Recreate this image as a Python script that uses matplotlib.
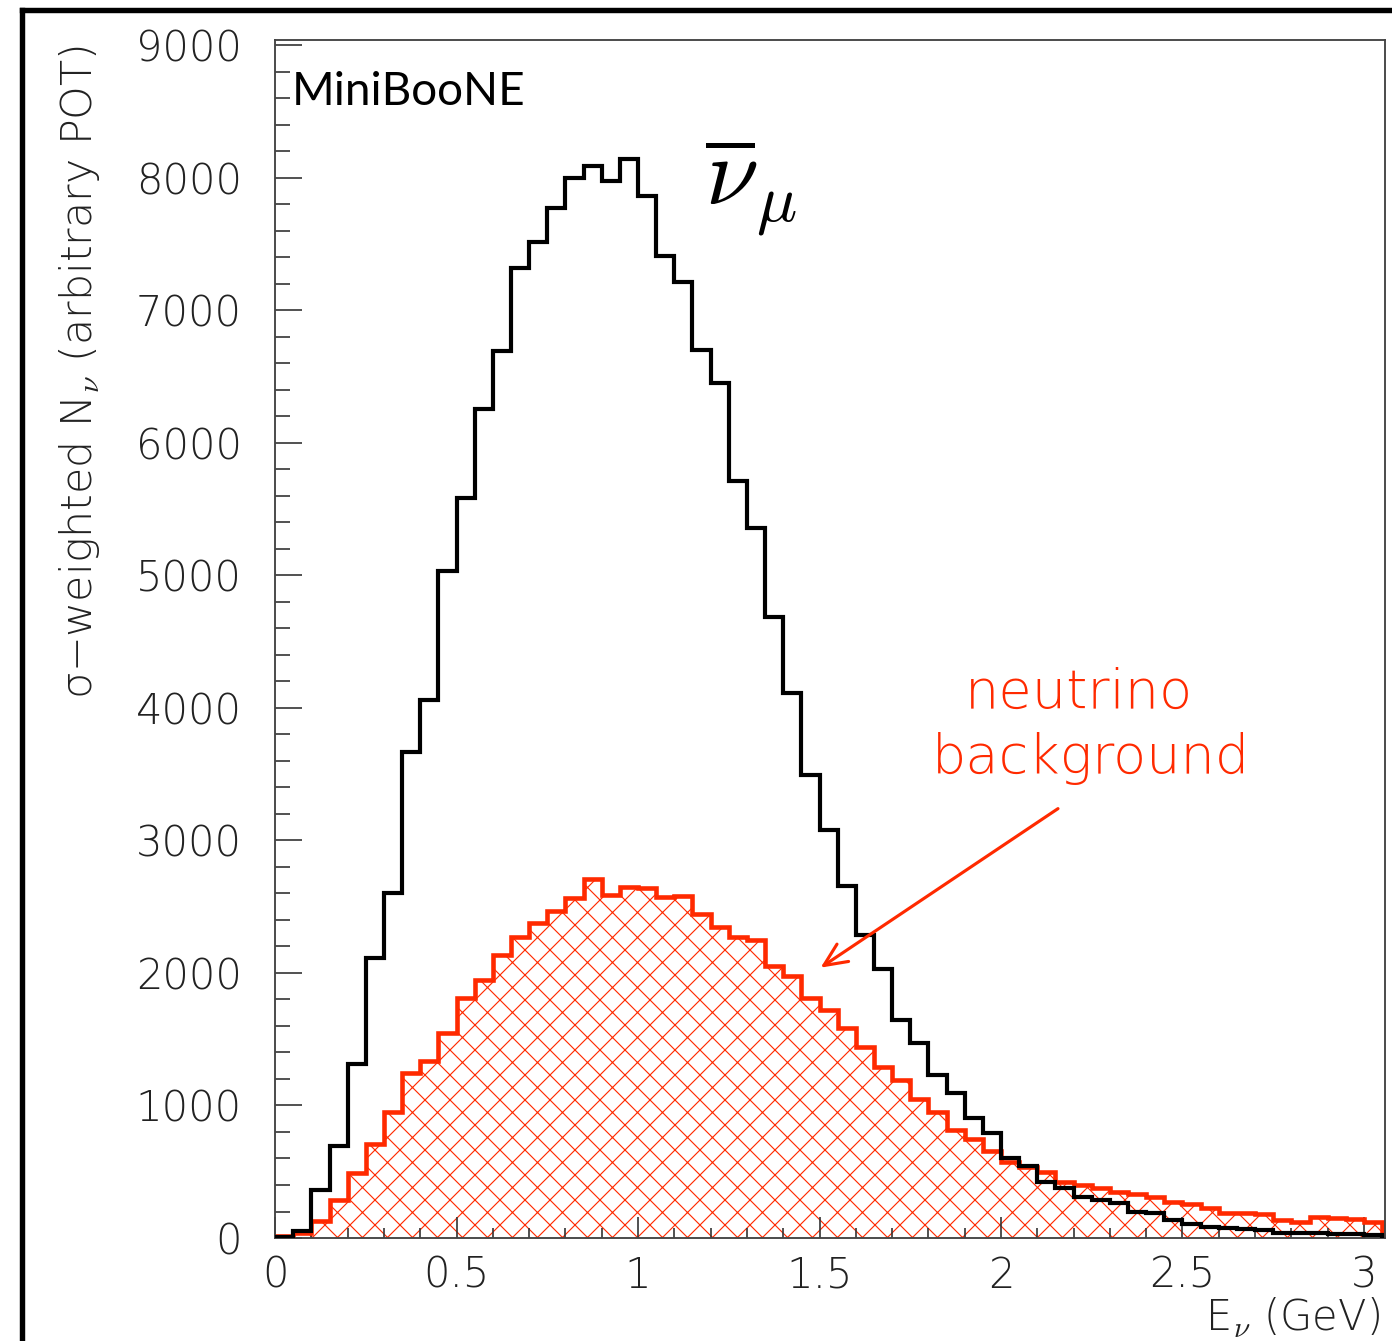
import numpy as np
import matplotlib
matplotlib.use("Agg")
import matplotlib.pyplot as plt
from matplotlib.lines import Line2D

# 0.05 GeV bins from 0 to 3.05 GeV
bin_width = 0.05
n_bins = 61
edges = np.arange(n_bins + 1) * bin_width

# sigma-weighted anti-numu flux (black)
antinu_mu = [10, 55, 365, 694, 1313, 2110, 2600, 3666, 4059, 5030,
             5585, 6253, 6692, 7319, 7518, 7771, 7996, 8087, 7974, 8140,
             7861, 7408, 7213, 6699, 6452, 5712, 5355, 4685, 4115, 3493,
             3075, 2655, 2290, 2028, 1645, 1472, 1228, 1095, 908, 795,
             607, 545, 424, 378, 313, 285, 262, 195, 187, 136,
             108, 85, 77, 66, 60, 38, 36, 35, 34, 33,
             22]

# wrong-sign neutrino background (red, hatched)
nu_background = [15, 38, 132, 287, 487, 713, 950, 1248, 1339, 1546,
                 1811, 1950, 2138, 2274, 2377, 2470, 2563, 2707, 2590, 2645,
                 2644, 2575, 2584, 2444, 2346, 2275, 2245, 2050, 1980, 1814,
                 1720, 1584, 1442, 1292, 1195, 1049, 950, 818, 746, 659,
                 570, 535, 500, 424, 400, 376, 350, 332, 311, 273,
                 256, 225, 191, 190, 181, 136, 123, 155, 149, 140,
                 123]

x_ticks = [0, 0.5, 1, 1.5, 2, 2.5, 3]
x_ticklabels = ["0", "0.5", "1", "1.5", "2", "2.5", "3"]
y_ticks = list(range(0, 9001, 1000))

RED = "#ff2a00"
plt.rcParams["hatch.linewidth"] = 0.55
plt.rcParams["font.family"] = ["DejaVu Sans"]

fig = plt.figure(figsize=(9.28, 8.94), dpi=150)
ax = fig.add_axes([0.1976, 0.0768, 0.7974, 0.8934])

ax.stairs(nu_background, edges, fill=True, facecolor="none",
          edgecolor=RED, hatch="xx", linewidth=0, zorder=1)
ax.stairs(nu_background, edges, color=RED, linewidth=2.2, zorder=2)
ax.stairs(antinu_mu, edges, color="black", linewidth=2.0, zorder=3)

ax.set_xlim(0, 3.058)
ax.set_ylim(0, 9040)

ax.set_xticks(x_ticks)
ax.set_xticklabels(x_ticklabels)
ax.set_xticks(np.arange(0, 3.05, 0.1), minor=True)
ax.set_yticks(y_ticks)
ax.set_yticks(np.arange(0, 9001, 200), minor=True)

ax.tick_params(axis="both", which="both", direction="in", color="#333333",
               labelsize=20, width=0.8, top=False, right=False)
ax.tick_params(axis="y", which="major", length=13, pad=16)
ax.tick_params(axis="y", which="minor", length=7)
ax.tick_params(axis="x", which="major", length=10, pad=8)
ax.tick_params(axis="x", which="minor", length=5)
for lab in ax.get_xticklabels() + ax.get_yticklabels():
    lab.set_color("#222222")
    lab.set_fontweight("ultralight")

for sp in ax.spines.values():
    sp.set_color("#444444")
    sp.set_linewidth(0.9)

ax.text(0.046, 9000 - 350, "MiniBooNE", fontsize=22, family="Lato",
        va="center", ha="left")
ax.text(1.185, 7930, r"$\overline{\nu}_{\mu}$", fontsize=46,
        math_fontfamily="cm", ha="left", va="center")

ax.text(2.215, 4111, "neutrino", color=RED, fontsize=26, ha="center",
        va="center", fontweight="ultralight")
ax.text(2.248, 3621, "background", color=RED, fontsize=26, ha="center",
        va="center", fontweight="ultralight")
ax.annotate("", xy=(1.503, 2040), xytext=(2.157, 3240),
            arrowprops=dict(arrowstyle="->,head_length=1.1,head_width=0.5",
                            color=RED, lw=1.5, shrinkA=0, shrinkB=0))

fig.text(1380 / 1392, 1 - 1318 / 1341, r"E$_{\nu}$ (GeV)", fontsize=20,
         ha="right", va="center", color="#222222", fontweight="ultralight",
         math_fontfamily="cm")
fig.text(80 / 1392, 1 - 45 / 1341,
         r"σ−weighted N$_{\nu}$ (arbitrary POT)", fontsize=20.5,
         fontweight="ultralight", math_fontfamily="cm", rotation=90,
         ha="center", va="top", color="#222222")

# outer frame along the top and left edges
fig.add_artist(Line2D([22 / 1392, 1.0], [1 - 10 / 1341, 1 - 10 / 1341],
                      transform=fig.transFigure, color="black", lw=2.6))
fig.add_artist(Line2D([22 / 1392, 22 / 1392], [0.0, 1 - 10 / 1341],
                      transform=fig.transFigure, color="black", lw=2.6))

fig.savefig("out.png", dpi=150)
